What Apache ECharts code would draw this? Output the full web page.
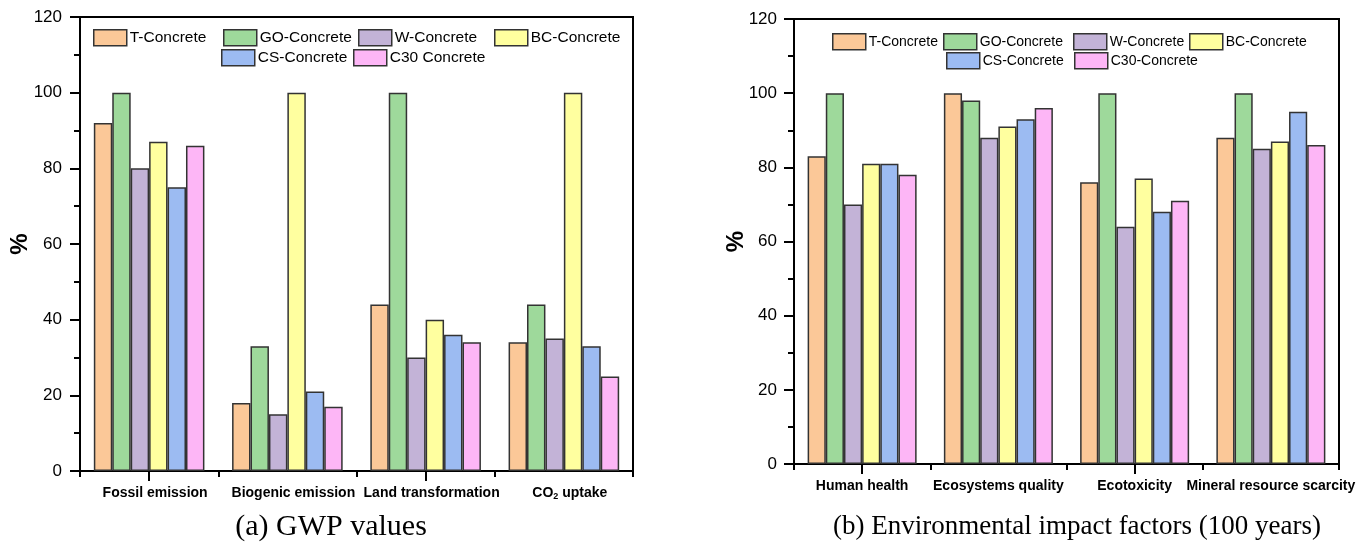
<!DOCTYPE html>
<html>
<head>
<meta charset="utf-8">
<script src="https://cdn.jsdelivr.net/npm/echarts@6/dist/echarts.min.js"></script>
<style>
html,body{margin:0;padding:0;background:#fff;}
#c{width:1367px;height:545px;}
</style>
</head>
<body>
<div id="c"></div>
<script>
// ---- data ----
const categoriesA = ['Fossil emission', 'Biogenic emission', 'Land transformation', 'CO₂ uptake'];
const categoriesB = ['Human health', 'Ecosystems quality', 'Ecotoxicity', 'Mineral resource scarcity'];
const seriesNamesA = ['T-Concrete', 'GO-Concrete', 'W-Concrete', 'BC-Concrete', 'CS-Concrete', 'C30 Concrete'];
const seriesNamesB = ['T-Concrete', 'GO-Concrete', 'W-Concrete', 'BC-Concrete', 'CS-Concrete', 'C30-Concrete'];
const tA = [92, 18, 44, 34];
const goA = [100, 33, 100, 44];
const wA = [80, 15, 30, 35];
const bcA = [87, 100, 40, 100];
const csA = [75, 21, 36, 33];
const c30A = [86, 17, 34, 25];
const tB = [83, 100, 76, 88];
const goB = [100, 98, 100, 100];
const wB = [70, 88, 64, 85];
const bcB = [81, 91, 77, 87];
const csB = [81, 93, 68, 95];
const c30B = [78, 96, 71, 86];
const yTicks = [0, 20, 40, 60, 80, 100, 120];
const captionA = '(a) GWP values';
const captionB = '(b) Environmental impact factors (100 years)';

// ---- styling ----
const colors = ['#FBC898', '#9ED99B', '#C3B3D7', '#FFFF9F', '#9CBBF2', '#FDB6F6'];
const SANS = "'Liberation Sans', Arial, sans-serif";
const SERIF = "'Liberation Serif', 'Times New Roman', serif";

const valuesA = [tA, goA, wA, bcA, csA, c30A];
const valuesB = [tB, goB, wB, bcB, csB, c30B];

function yAxis(gi, labelSize, margin, nameGap) {
  return {
    type: 'value', gridIndex: gi, min: yTicks[0], max: yTicks[yTicks.length - 1],
    interval: yTicks[1] - yTicks[0],
    name: '%', nameLocation: 'middle', nameGap: nameGap, nameRotate: 90, nameMoveOverlap: false,
    nameTextStyle: {fontFamily: SANS, fontWeight: 'bold', fontSize: 24, color: '#000'},
    axisLine: {show: true, lineStyle: {color: '#000', width: 2}},
    axisTick: {show: true, inside: false, length: 10, lineStyle: {color: '#000', width: 2}},
    minorTick: {show: true, splitNumber: 2, length: 6, lineStyle: {color: '#000', width: 2}},
    splitLine: {show: false},
    axisLabel: {fontFamily: SANS, fontSize: labelSize, color: '#000', margin: margin}
  };
}

function labelFmt(v) {
  if (v.indexOf('₂') >= 0) {
    const p = v.split('₂');
    return '{n|' + p[0] + '}{s|2}{n|' + p[1] + '}';
  }
  return '{n|' + v + '}';
}

function xAxes(gi, cats, fontSize, pad) {
  return [{
    type: 'category', gridIndex: gi, data: cats,
    axisLine: {show: true, lineStyle: {color: '#000', width: 2}},
    axisTick: {show: true, alignWithLabel: false, length: 6, lineStyle: {color: '#000', width: 2}},
    axisLabel: {
      interval: 0, margin: 14, formatter: labelFmt, padding: pad,
      rich: {
        n: {fontFamily: SANS, fontWeight: 'bold', fontSize: fontSize, color: '#000', lineHeight: 16},
        s: {fontFamily: SANS, fontWeight: 'bold', fontSize: 9, color: '#000', lineHeight: 16, verticalAlign: 'bottom', padding: [6, 0, 0, 0]}
      }
    }
  }, {
    type: 'category', gridIndex: gi, data: cats, position: 'bottom',
    axisLine: {show: false},
    axisTick: {show: true, alignWithLabel: true, length: 10, lineStyle: {color: '#000', width: 2}},
    axisLabel: {show: false}
  }];
}

function makeSeries(names, vals, xi, yi) {
  return names.map((n, i) => ({
    name: n, type: 'bar', xAxisIndex: xi, yAxisIndex: yi, data: vals[i],
    barGap: '0%', barCategoryGap: '20%',
    itemStyle: {color: colors[i], borderColor: '#333', borderWidth: 1.5},
    emphasis: {disabled: true}
  }));
}

function legendItems(names, positions, fontSize) {
  return names.map((n, i) => ({
    data: [n], left: positions[i][0], top: positions[i][1], padding: 0,
    itemWidth: 33, itemHeight: 16, icon: 'rect',
    itemStyle: {borderColor: '#333', borderWidth: 1.5},
    textStyle: {fontFamily: SANS, fontSize: fontSize, color: '#000', lineHeight: 16, padding: [0, 0, 0, -2]},
    selectedMode: false
  }));
}

const legPosA = [[93, 29], [223, 29], [358, 29], [494, 29], [221, 49], [353, 49]];
const legPosB = [[832, 33], [943, 33], [1073, 33], [1189, 33], [946, 52], [1074, 52]];

const chart = echarts.init(document.getElementById('c'), null, {renderer: 'canvas'});
const option = {
  animation: false,
  color: colors,
  grid: [
    {left: 80, right: 734, top: 17, bottom: 74, show: true, borderColor: '#000', borderWidth: 2, backgroundColor: 'transparent'},
    {left: 794, right: 28, top: 19, bottom: 81, show: true, borderColor: '#000', borderWidth: 2, backgroundColor: 'transparent'}
  ],
  xAxis: [].concat(xAxes(0, categoriesA, 14, [0, 0, 0, 12]), xAxes(1, categoriesB, 14, [0, 0, 0, 0])),
  yAxis: [yAxis(0, 17, 18, 48), yAxis(1, 17, 17, 46)],
  legend: [].concat(legendItems(seriesNamesA, legPosA, 15.5), legendItems(seriesNamesB, legPosB, 14)),
  series: [].concat(makeSeries(seriesNamesA, valuesA, 0, 0), makeSeries(seriesNamesB, valuesB, 2, 1)),
  graphic: [
    {type: 'text', x: 331, y: 527, style: {text: captionA, font: '30px ' + SERIF, fill: '#000', textAlign: 'center', textVerticalAlign: 'middle'}},
    {type: 'text', x: 1077, y: 527, style: {text: captionB, font: '27px ' + SERIF, fill: '#000', textAlign: 'center', textVerticalAlign: 'middle'}}
  ]
};
chart.setOption(option);
</script>
</body>
</html>
